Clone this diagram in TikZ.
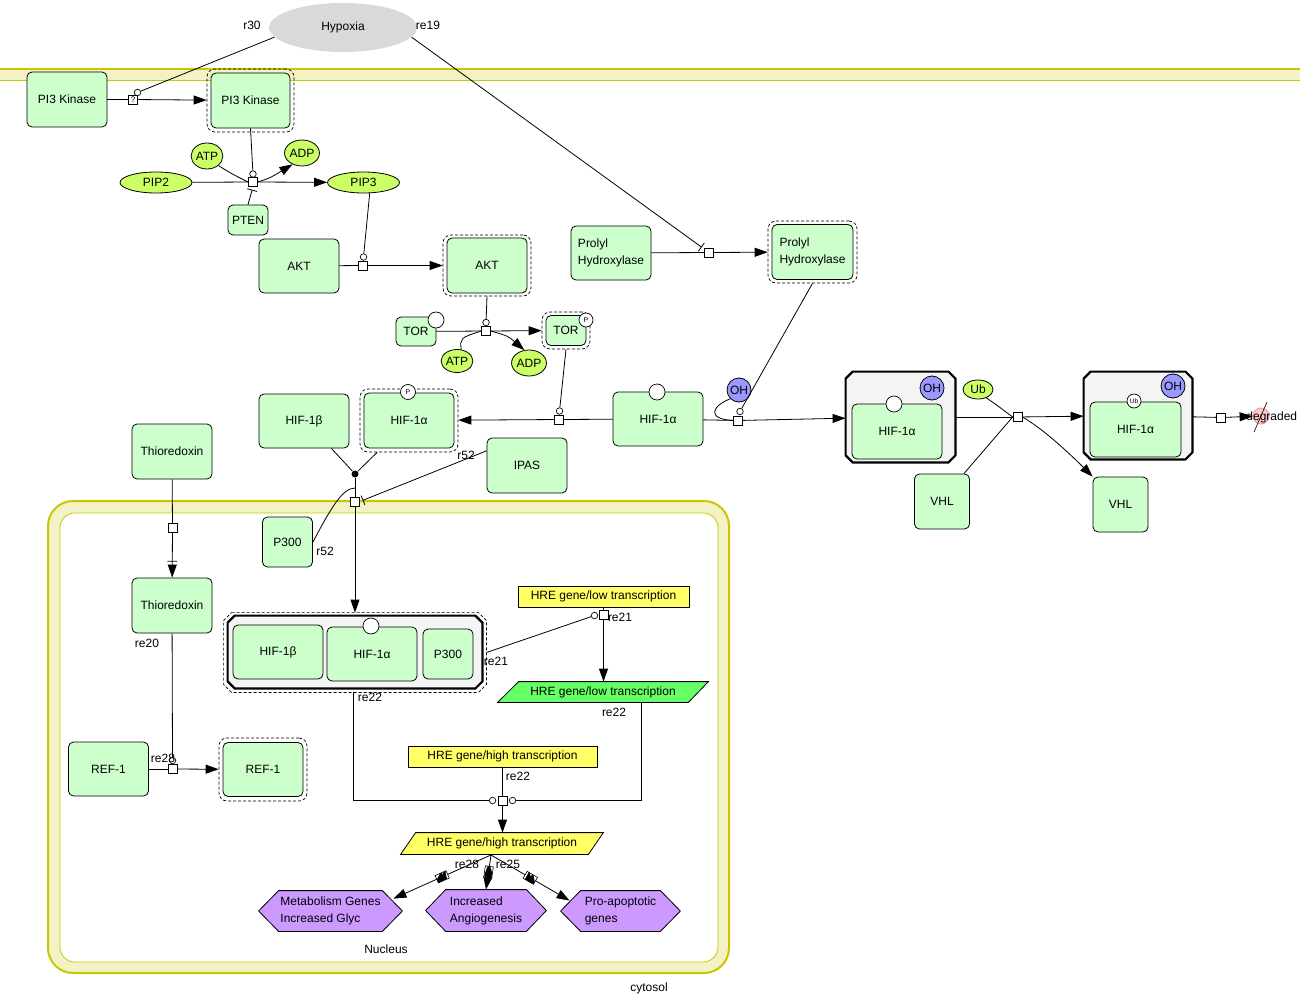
\documentclass[tikz,border=0pt]{standalone}
\usepackage{fontspec}
\setmainfont{Liberation Sans}
\usetikzlibrary{arrows.meta,shapes.geometric,shapes.misc,calc}
\definecolor{protg}{HTML}{CCFFCC}
\definecolor{smolc}{HTML}{CCFF66}
\definecolor{hypg}{HTML}{D9D9D9}
\definecolor{ohb}{HTML}{9999FF}
\definecolor{purp}{HTML}{CC99FF}
\definecolor{yel}{HTML}{FFFF66}
\definecolor{grn}{HTML}{66FF66}
\definecolor{pinkd}{HTML}{FFCCCC}
\definecolor{cmpd}{HTML}{C8C800}
\definecolor{cmpf}{HTML}{F2F2C4}
\definecolor{cxf}{HTML}{F4F4F4}
\begin{document}
\begin{tikzpicture}[x=1pt,y=-1pt,
  font=\fontsize{12}{17}\selectfont, line width=0.8pt,
  prot/.style={draw, fill=protg, rounded corners=5pt, inner sep=1pt, align=center},
  act/.style={draw, dash pattern=on 3pt off 2pt, rounded corners=8pt, line width=0.7pt, inner sep=0pt},
  sm/.style={ellipse, draw, fill=smolc, inner sep=0pt},
  rsq/.style={rectangle, draw, fill=white, minimum size=9pt, inner sep=0pt, line width=0.7pt},
  mc/.style={circle, draw, fill=white, minimum size=6.5pt, inner sep=0pt, line width=0.7pt},
  stc/.style={circle, draw, fill=white, minimum size=16pt, inner sep=0pt, line width=0.7pt},
  ohc/.style={circle, draw, fill=ohb, minimum size=24pt, inner sep=0pt},
  arr/.style={-{Triangle[length=13pt,width=9pt]}},
  inh/.style={-{Bar[width=10pt]}, shorten >=3pt},
  cxline/.style={draw, fill=cxf, line width=2.2pt},
  cxdash/.style={draw, dash pattern=on 3pt off 2pt, line width=0.7pt},
  lbl/.style={inner sep=0pt},
  ghost/.style={inner sep=0pt},
  tmark/.style={draw, fill=white, minimum width=12pt, minimum height=8pt, inner sep=0pt, line width=0.6pt, sloped,
    path picture={\draw[line width=0.5pt] ([xshift=-3pt]path picture bounding box.south) -- ([xshift=-1pt]path picture bounding box.north);
                  \draw[line width=0.5pt] ([xshift=1pt]path picture bounding box.south) -- ([xshift=3pt]path picture bounding box.north);}}
]
\useasboundingbox (0,0) rectangle (1300,1000);
\fill[white] (0,0) rectangle (1300,1000);

% compartments
\fill[cmpf] (0,69) rectangle (1300,80);
\draw[cmpd, line width=2pt] (0,69) -- (1300,69);
\draw[cmpd, line width=0.8pt] (0,80) -- (1300,80);
\draw[cmpd, line width=2pt, fill=cmpf, rounded corners=25pt] (48,501) rectangle (729,973);
\draw[cmpd, line width=0.8pt, fill=white, rounded corners=15pt] (60,513) rectangle (718,962);

% ---------- nodes ----------
\node[ellipse, fill=hypg, minimum width=148pt, minimum height=49pt, inner sep=0pt] (hyp) at (343,27.5) {Hypoxia};

\node[prot, minimum width=80pt, minimum height=55pt] (pi3k) at (67,99.5) {PI3 Kinase};
\node[act, minimum width=87pt, minimum height=63pt] (pi3ko) at (250.5,100.5) {};
\node[prot, minimum width=79pt, minimum height=55pt] (pi3ka) at (250.5,100.5) {PI3 Kinase};
\node[rsq] (s30) at (133,99.5) {\fontsize{8}{8}\selectfont ?};
\node[mc] (c30) at (137.5,92.5) {};

\node[sm, minimum width=28pt, minimum height=26pt] (atp) at (207,156) {ATP};
\node[sm, minimum width=28pt, minimum height=26pt] (adp) at (302,153) {ADP};
\node[sm, minimum width=72pt, minimum height=21pt] (pip2) at (156,182.5) {PIP2};
\node[sm, minimum width=72pt, minimum height=21pt] (pip3) at (363.5,182.5) {PIP3};
\node[prot, minimum width=40pt, minimum height=30pt] (pten) at (248,220) {PTEN};
\node[rsq] (s1) at (253,182) {};
\node[mc] (c1) at (253,174) {};

\node[prot, minimum width=80pt, minimum height=54pt] (akt) at (299,266) {AKT};
\node[act, minimum width=88pt, minimum height=61pt] (akto) at (487,265.5) {};
\node[prot, minimum width=80pt, minimum height=55pt] (akta) at (487,265.5) {AKT};
\node[rsq] (s2) at (363,265.5) {};
\node[mc] (c2) at (363.5,257) {};

\node[prot, minimum width=40pt, minimum height=29pt] (tor) at (416,331.5) {TOR};
\node[stc] (torst) at (436,320) {};
\node[rsq] (s3) at (486,331) {};
\node[mc] (c3) at (486,322.5) {};
\node[sm, minimum width=29pt, minimum height=23pt] (atp2) at (457,361) {ATP};
\node[sm, minimum width=29pt, minimum height=26pt] (adp2) at (529,363) {ADP};
\node[act, minimum width=48pt, minimum height=37pt] (toro) at (566,330.5) {};
\node[prot, minimum width=40pt, minimum height=30pt] (tora) at (566,330.5) {TOR};
\node[circle, draw, fill=white, minimum size=14pt, inner sep=0pt, line width=0.7pt, font=\fontsize{7}{7}\selectfont] (torp) at (586,320) {P};

\node[prot, minimum width=80pt, minimum height=54pt, align=left] (prol) at (611,253) {Prolyl\\Hydroxylase};
\node[act, minimum width=89pt, minimum height=62pt] (prolo) at (812.5,252) {};
\node[prot, minimum width=81pt, minimum height=55pt, align=left] (prola) at (812.5,252) {Prolyl\\Hydroxylase};
\node[rsq] (sp) at (709,252.5) {};

\node[prot, minimum width=90pt, minimum height=54pt] (hif) at (658,419) {HIF-1α};
\node[stc] (hifst) at (657,392) {};
\node[rsq] (s4) at (559,419.5) {};
\node[mc] (c4) at (559.5,411) {};
\node[act, minimum width=98pt, minimum height=63pt] (hifpo) at (409,420.5) {};
\node[prot, minimum width=90pt, minimum height=55pt] (hifpa) at (409,420.5) {HIF-1α};
\node[circle, draw, fill=white, minimum size=15pt, inner sep=0pt, line width=0.7pt, font=\fontsize{7}{7}\selectfont] (hifp) at (408,392) {P};
\node[prot, minimum width=90pt, minimum height=54pt] (hifb) at (304,421) {HIF-1β};
\node[prot, minimum width=80pt, minimum height=55pt] (ipas) at (527,465.5) {IPAS};
\node[prot, minimum width=50pt, minimum height=50pt] (p300a) at (287.5,542) {P300};
\node[circle, fill=black, minimum size=7pt, inner sep=0pt] (dot) at (355,474) {};
\node[rsq] (s8) at (355,501.5) {};
\coordinate (j8) at (355,488);

\node[rsq] (s5) at (738,420.5) {};
\node[mc] (c5) at (740,411.5) {};
\node[ohc] (oh1) at (739,390) {OH};

% complex 1
\node[ghost, minimum width=109pt, minimum height=90pt] (cx1) at (900.5,417) {};
\node[ghost, minimum width=108pt, minimum height=87pt] (cx2) at (1138,415.5) {};
\foreach \c in {cx1,cx2}{
  \path[cxline] ($(\c.north west)+(7,0)$) -- ($(\c.north east)+(-7,0)$) -- ($(\c.north east)+(0,7)$) -- ($(\c.south east)+(0,-7)$) -- ($(\c.south east)+(-7,0)$) -- ($(\c.south west)+(7,0)$) -- ($(\c.south west)+(0,-7)$) -- ($(\c.north west)+(0,7)$) -- cycle;
}
\node[prot, minimum width=90pt, minimum height=55pt] (hif1) at (897,431.5) {HIF-1α};
\node[stc] (hif1st) at (894,404) {};
\node[ohc] (oh2) at (932,388) {OH};
\node[sm, minimum width=30pt, minimum height=19pt] (ub) at (978,389.5) {Ub};
\node[rsq] (s6) at (1017.5,417) {};
\node[prot, minimum width=55pt, minimum height=55pt] (vhl1) at (942,501.5) {VHL};
\node[prot, minimum width=55pt, minimum height=55pt] (vhl2) at (1120.5,504.5) {VHL};
\node[prot, minimum width=91pt, minimum height=55pt] (hif2) at (1135.5,429.5) {HIF-1α};
\node[circle, draw, fill=white, minimum size=14pt, inner sep=0pt, line width=0.7pt, font=\fontsize{6.5}{7}\selectfont] (ubst) at (1134,401) {Ub};
\node[ohc] (oh3) at (1173,386) {OH};
\node[rsq] (s7) at (1221,417.5) {};
\node[circle, draw=red!45, fill=pinkd, minimum size=16pt, inner sep=0pt] (deg) at (1261,416) {};
\draw[line width=0.6pt] ($(deg)+(6,-14)$) -- ($(deg)+(-7,16)$);
\node[lbl, anchor=west] (degl) at (1246,417) {degraded};

% nucleus
\node[prot, minimum width=80pt, minimum height=55pt] (thio1) at (172,451.5) {Thioredoxin};
\node[rsq] (s11) at (172.5,528) {};
\node[prot, minimum width=80pt, minimum height=55pt] (thio2) at (172,605.5) {Thioredoxin};
\node[mc] (c12) at (172.5,760.5) {};
\node[rsq] (s12) at (173,769) {};
\node[prot, minimum width=80pt, minimum height=54pt] (ref1) at (108.5,769) {REF-1};
\node[act, minimum width=88pt, minimum height=63pt] (ref2o) at (263,769.5) {};
\node[prot, minimum width=80pt, minimum height=54pt] (ref2a) at (263,769.5) {REF-1};

\node[ghost, minimum width=262pt, minimum height=79pt] (cx3o) at (355,652.5) {};
\path[cxdash] ($(cx3o.north west)+(8,0)$) -- ($(cx3o.north east)+(-8,0)$) -- ($(cx3o.north east)+(0,8)$) -- ($(cx3o.south east)+(0,-8)$) -- ($(cx3o.south east)+(-8,0)$) -- ($(cx3o.south west)+(8,0)$) -- ($(cx3o.south west)+(0,-8)$) -- ($(cx3o.north west)+(0,8)$) -- cycle;
\node[ghost, minimum width=254pt, minimum height=72pt] (cx3) at (355,652) {};
\path[cxline] ($(cx3.north west)+(7,0)$) -- ($(cx3.north east)+(-7,0)$) -- ($(cx3.north east)+(0,7)$) -- ($(cx3.south east)+(0,-7)$) -- ($(cx3.south east)+(-7,0)$) -- ($(cx3.south west)+(7,0)$) -- ($(cx3.south west)+(0,-7)$) -- ($(cx3.north west)+(0,7)$) -- cycle;
\node[prot, minimum width=90pt, minimum height=54pt] (hifb2) at (278,652) {HIF-1β};
\node[prot, minimum width=90pt, minimum height=54pt] (hifa2) at (372,654) {HIF-1α};
\node[stc] (hifa2st) at (371,626) {};
\node[prot, minimum width=50pt, minimum height=50pt] (p3002) at (448,654) {P300};

\node[draw, fill=yel, minimum width=171pt, minimum height=21pt, inner sep=0pt] (hrelow) at (603.5,596.5) {HRE gene/low transcription};
\node[rsq] (s9) at (603.5,614.5) {};
\node[mc] (c9) at (594.5,615.5) {};
\node[ghost, minimum width=210pt, minimum height=20pt] (par1) at (603,692) {};
\draw[fill=grn] (par1.south west) -- ($(par1.north west)+(21,0)$) -- (par1.north east) -- ($(par1.south east)+(-20,0)$) -- cycle;
\node[lbl] at (603,692) {HRE gene/low transcription};

\node[draw, fill=yel, minimum width=189pt, minimum height=21pt, inner sep=0pt] (hrehigh) at (502.5,756.5) {HRE gene/high transcription};
\node[mc] (c10a) at (492.5,800.5) {};
\node[mc] (c10b) at (512.5,800.5) {};
\node[rsq] (s10) at (502.5,800.5) {};
\node[ghost, minimum width=202pt, minimum height=21pt] (par2) at (502,843.5) {};
\draw[fill=yel] (par2.south west) -- ($(par2.north west)+(15,0)$) -- (par2.north east) -- ($(par2.south east)+(-15,0)$) -- cycle;
\node[lbl] at (502,843.5) {HRE gene/high transcription};
\coordinate (p2s) at (491,855);

\node[ghost, minimum width=143pt, minimum height=40pt] (hex1) at (330.5,911) {};
\node[ghost, minimum width=120pt, minimum height=41pt] (hex2) at (486,910.5) {};
\node[ghost, minimum width=119pt, minimum height=40pt] (hex3) at (620.5,911) {};
\foreach \h in {hex1,hex2,hex3}{
  \draw[fill=purp] (\h.west) -- ($(\h.north west)+(20,0)$) -- ($(\h.north east)+(-20,0)$) -- (\h.east) -- ($(\h.south east)+(-20,0)$) -- ($(\h.south west)+(20,0)$) -- cycle;
}
\node[lbl, align=left] at (hex1) {Metabolism Genes\\Increased Glyc};
\node[lbl, align=left] at (hex2) {Increased\\Angiogenesis};
\node[lbl, align=left] at (hex3) {Pro-apoptotic\\genes};

% labels
\node[lbl] at (252,25) {r30};
\node[lbl] at (428,25) {re19};
\node[lbl] at (466,455) {r52};
\node[lbl] at (325,551) {r52};
\node[lbl] at (147,643) {re20};
\node[lbl] at (163,758) {re28};
\node[lbl] at (496,661) {re21};
\node[lbl] at (370,697) {re22};
\node[lbl] at (620,617) {re21};
\node[lbl] at (614,712) {re22};
\node[lbl] at (518,776) {re22};
\node[lbl] at (467,864) {re28};
\node[lbl] at (508,864) {re25};
\node[lbl] at (386,949) {Nucleus};
\node[lbl] at (649,988) {cytosol};

% ---------- connectors ----------
\draw (hyp.188) -- (c30);
\draw[inh] (hyp.352) -- (sp);
\draw (pi3k) -- (s30);
\draw[arr] (s30) -- (pi3ko);

\draw (pip2) -- (s1);
\draw[arr] (s1) -- (pip3);
\draw (atp.-40) .. controls (232,174) .. (s1.west);
\draw[arr] (s1.east) .. controls (270,178) .. (adp.-130);
\draw (pi3ka.south) -- (c1);
\draw[inh] (pten.north) -- (s1.south);

\draw (pip3.-60) -- (c2);
\draw (akt) -- (s2);
\draw[arr] (s2) -- (akto);

\draw (akto.south) -- (c3);
\draw (tor) -- (s3);
\draw[arr] (s3) -- (toro);
\draw (atp2.70) .. controls (460,338) .. (s3.west);
\draw[arr] (s3.east) .. controls (508,336) .. (adp2.110);

\draw (prol) -- (sp);
\draw[arr] (sp) -- (prolo);

\draw (toro.south) -- (c4);
\draw (hif) -- (s4);
\draw[arr] (s4) -- (hifpo);

\draw (prolo.south) -- (c5);
\draw (hif) -- (s5);
\draw[arr] (s5) -- (cx1);
\draw (oh1.225) .. controls (712,406) and (706,419) .. (s5.west);

\draw (hifb.-45) -- (dot);
\draw (hifpo.-135) -- (dot);
\draw (dot) -- (s8);
\draw (p300a.east) .. controls (330,510) and (342,488) .. (j8);
\draw[inh] (ipas.160) -- (s8.east);
\draw[arr] (s8) -- (cx3o.north);

\draw (cx1) -- (s6);
\draw[arr] (s6) -- (cx2);
\draw (ub.-45) .. controls (998,406) .. (s6.west);
\draw ($(vhl1.north east)+(-6,0)$) .. controls (988,445) .. (s6.west);
\draw[arr] (s6.east) .. controls (1042,428) and (1068,452) .. (vhl2.north west);
\draw (cx2) -- (s7);
\draw[arr] (s7) -- (deg);

\draw (thio1) -- (s11);
\draw[-{Bar[width=10pt,sep=3pt]Triangle[length=13pt,width=9pt]}] (s11) -- (thio2);
\draw (thio2) -- (c12);
\draw (ref1) -- (s12);
\draw[arr] (s12) -- (ref2o);

\draw (cx3o.east) -- (c9);
\draw (hrelow) -- (s9);
\draw[arr] (s9) -- (par1.north -| s9);
\draw ($(par1.south)+(38,0)$) |- (c10b);
\draw ($(cx3o.south)+(-2,0)$) |- (c10a);
\draw (hrehigh) -- (s10);
\draw[arr] (s10) -- (par2.north -| s10);

\draw[arr] (p2s) -- node[tmark, pos=0.5]{} ($(hex1.north east)+(-9,8)$);
\draw[arr] (p2s) -- node[tmark, pos=0.5]{} (hex2.north);
\draw[arr] (p2s) -- node[tmark, pos=0.5]{} ($(hex3.north west)+(9,10)$);
\end{tikzpicture}
\end{document}
